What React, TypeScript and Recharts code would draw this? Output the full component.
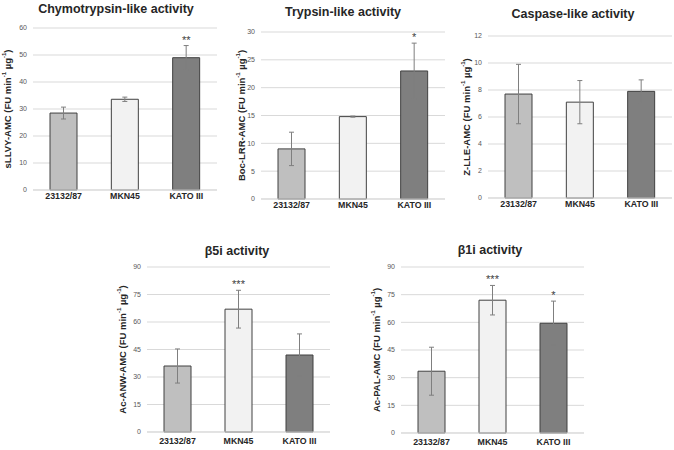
import { BarChart, Bar, XAxis, YAxis, CartesianGrid, Cell, ErrorBar, LabelList } from "recharts";

const cellLines = ["23132/87", "MKN45", "KATO III"];
const barColors = ["#BFBFBF", "#F2F2F2", "#7F7F7F"];

// mean, sd and significance per cell line
const chymoMean = [28.5, 33.6, 49];
const chymoSd = [2.2, 0.8, 4.5];
const chymoStars = ["", "", "**"];

const trypMean = [9, 14.8, 23];
const trypSd = [3, 0.1, 5];
const trypStars = ["", "", "*"];

const caspMean = [7.7, 7.1, 7.9];
const caspSd = [2.2, 1.6, 0.85];
const caspStars = ["", "", ""];

const b5iMean = [36, 67, 42];
const b5iSd = [9.3, 10.3, 11.5];
const b5iStars = ["", "***", ""];

const b1iMean = [33.5, 72, 59.5];
const b1iSd = [13, 8, 12];
const b1iStars = ["", "***", "*"];

const ticks60 = [0, 10, 20, 30, 40, 50, 60];
const ticks30 = [0, 5, 10, 15, 20, 25, 30];
const ticks12 = [0, 2, 4, 6, 8, 10, 12];
const ticks90 = [0, 15, 30, 45, 60, 75, 90];

const FONT = "'Liberation Sans', Arial, sans-serif";

const makeData = (mean: number[], sd: number[], stars: string[]) =>
  cellLines.map((name, i) => ({ name, mean: mean[i], sd: sd[i], stars: stars[i] }));

function YTitle(props: any) {
  const vb = props.viewBox || {};
  const cx = (vb.x ?? 0) + props.dx;
  const cy = vb.y != null ? vb.y + vb.height / 2 : props.fallbackY;
  return (
    <text
      x={cx}
      y={cy}
      transform={`rotate(-90 ${cx} ${cy})`}
      textAnchor="middle"
      dominantBaseline="central"
      fontFamily={FONT}
      fontWeight="bold"
      fontSize={9.5}
      fill="#262626"
    >
      {props.name} (FU min
      <tspan dy={-3.5} fontSize={6}>-1</tspan>
      <tspan dy={3.5}> µg</tspan>
      <tspan dy={-3.5} fontSize={6}>-1</tspan>
      <tspan dy={3.5}>)</tspan>
    </text>
  );
}

function Panel(p: any) {
  const data = makeData(p.mean, p.sd, p.stars);
  const renderStars = (props: any) => {
    const vb = props.viewBox || props;
    const idx = props.index;
    const v = data[idx]?.stars;
    if (!v) return null;
    const d = data[idx];
    const pxPerUnit = vb.height / d.mean;
    const top = vb.y - d.sd * pxPerUnit;
    return (
      <text x={vb.x + vb.width / 2} y={top - 2} textAnchor="middle" fontFamily={FONT} fontSize={11} fill="#404040">
        {v}
      </text>
    );
  };
  return (
    <div style={{ position: "absolute", left: p.left, top: p.top, width: p.width, height: p.height }}>
      <div
        style={{
          position: "absolute",
          left: p.titleX - 120,
          width: 240,
          top: p.titleY - 8,
          textAlign: "center",
          fontFamily: FONT,
          fontWeight: "bold",
          fontSize: 12.5,
          lineHeight: "16px",
          color: "#262626",
          whiteSpace: "nowrap",
        }}
      >
        {p.title}
      </div>
      <BarChart
        width={p.width}
        height={p.height}
        data={data}
        margin={{ top: p.mt, right: p.mr, bottom: p.mb, left: 0 }}
      >
        <CartesianGrid vertical={false} stroke="#D9D9D9" />
        <XAxis
          dataKey="name"
          interval={0}
          height={p.xh}
          axisLine={{ stroke: "#D9D9D9" }}
          tickLine={false}
          tickSize={0}
          tickMargin={p.xm}
          tick={{ fontFamily: FONT, fontSize: 8.8, fontWeight: "bold", fill: "#262626" }}
        />
        <YAxis
          domain={[0, p.ticks[p.ticks.length - 1]]}
          ticks={p.ticks}
          width={p.yw}
          axisLine={false}
          tickLine={false}
          tickSize={0}
          tickMargin={6}
          tick={{ fontFamily: FONT, fontSize: 7, fill: "#595959" }}
          label={<YTitle name={p.yName} dx={p.labelX} />}
        />
        <Bar dataKey="mean" barSize={27} stroke="#404040" strokeWidth={1} isAnimationActive={false}>
          {data.map((d, i) => (
            <Cell key={d.name} fill={barColors[i]} />
          ))}
          <ErrorBar dataKey="sd" width={2.5} stroke="#7F7F7F" strokeWidth={1} />
          <LabelList dataKey="stars" content={renderStars} />
        </Bar>
      </BarChart>
    </div>
  );
}

export default function App() {
  return (
    <div style={{ position: "absolute", left: 0, top: 0, width: 674, height: 450, background: "#fff", overflow: "hidden" }}>
      <Panel
        left={0} top={0} width={225} height={215}
        mt={28} mr={8} mb={5} xh={20} xm={3} yw={33} labelX={7}
        ticks={ticks60} mean={chymoMean} sd={chymoSd} stars={chymoStars}
        title="Chymotrypsin-like activity" titleX={116} titleY={9}
        yName="sLLVY-AMC"
      />
      <Panel
        left={225} top={0} width={225} height={220}
        mt={32} mr={5} mb={1} xh={20} xm={3} yw={36} labelX={16}
        ticks={ticks30} mean={trypMean} sd={trypSd} stars={trypStars}
        title="Trypsin-like activity" titleX={118} titleY={12}
        yName="Boc-LRR-AMC"
      />
      <Panel
        left={450} top={0} width={224} height={220}
        mt={36} mr={2} mb={2} xh={20} xm={3} yw={38} labelX={16}
        ticks={ticks12} mean={caspMean} sd={caspSd} stars={caspStars}
        title="Caspase-like activity" titleX={123} titleY={14}
        yName="Z-LLE-AMC"
      />
      <Panel
        left={110} top={220} width={230} height={230}
        mt={47} mr={10} mb={0} xh={18} xm={6} yw={37} labelX={12}
        ticks={ticks90} mean={b5iMean} sd={b5iSd} stars={b5iStars}
        title="β5i activity" titleX={127} titleY={31}
        yName="Ac-ANW-AMC"
      />
      <Panel
        left={340} top={220} width={250} height={230}
        mt={47} mr={6} mb={0} xh={17} xm={6} yw={61} labelX={36}
        ticks={ticks90} mean={b1iMean} sd={b1iSd} stars={b1iStars}
        title="β1i activity" titleX={150} titleY={30}
        yName="Ac-PAL-AMC"
      />
    </div>
  );
}
